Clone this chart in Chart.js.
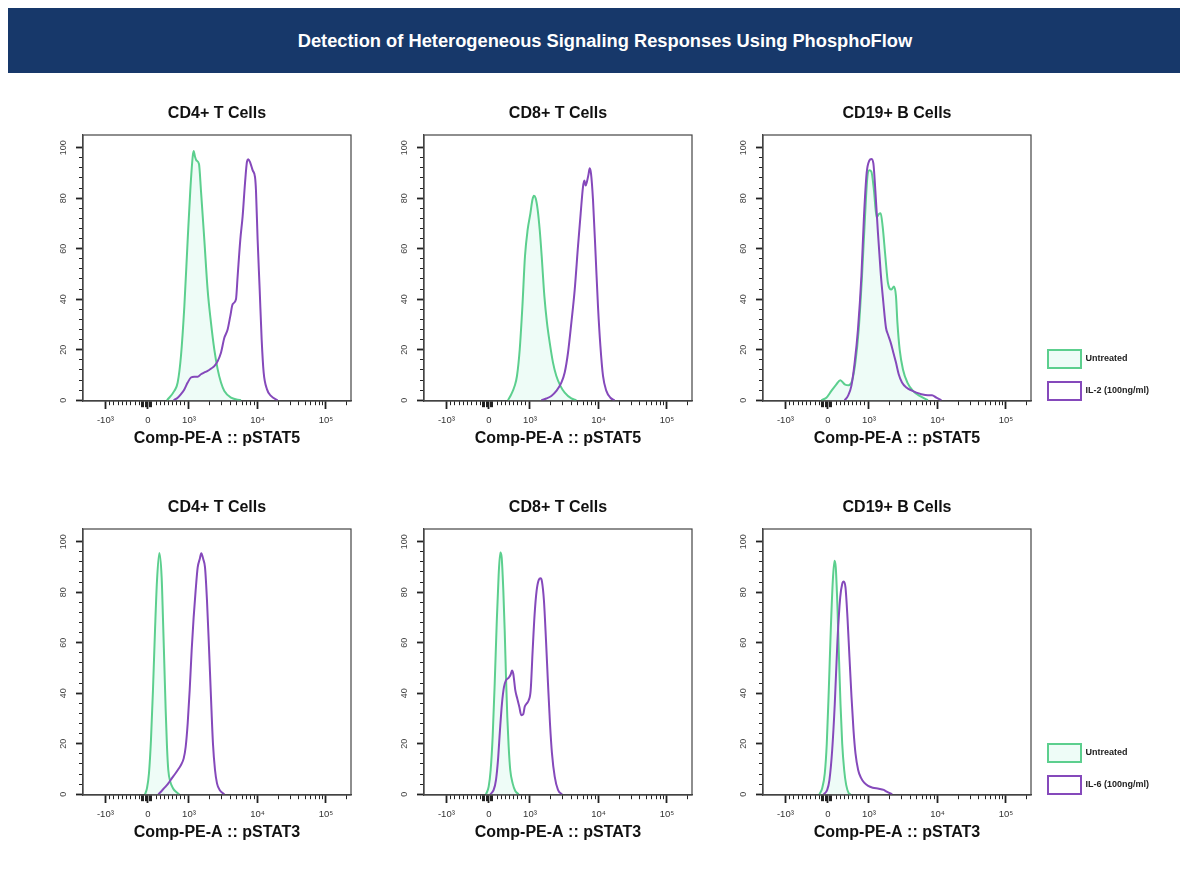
<!DOCTYPE html>
<html>
<head>
<meta charset="utf-8">
<title>Detection of Heterogeneous Signaling Responses Using PhosphoFlow</title>
<script src="https://cdn.jsdelivr.net/npm/chart.js@4.4.1/dist/chart.umd.min.js"></script>
<style>
    html, body { margin: 0; padding: 0; background: #fff; overflow: hidden; }
    body { width: 1188px; height: 873px; position: relative; font-family: "Liberation Sans", Arial, sans-serif; }
    #banner {
        position: absolute; left: 8px; top: 8px; width: 1150px; height: 65px; padding-left: 22px;
        background: #17386a; color: #fff; font-weight: bold; font-size: 18.3px;
        line-height: 65px; text-align: center;
    }
    canvas { position: absolute; }
</style>
</head>
<body>
<div id="banner">Detection of Heterogeneous Signaling Responses Using PhosphoFlow</div>
<canvas id="p1"></canvas>
<canvas id="p2"></canvas>
<canvas id="p3"></canvas>
<canvas id="p4"></canvas>
<canvas id="p5"></canvas>
<canvas id="p6"></canvas>
<canvas id="legendTop"></canvas>
<canvas id="legendBottom"></canvas>
<script>
'use strict';

// x values are in biexponential display units (1 = 10^3, 2 = 10^4, 3 = 10^5)
const xTickValues = [-0.22, 0.40, 1, 2, 3];
const xTickLabels = ['-10³', '0', '10³', '10⁴', '10⁵'];
const yTickValues = [0, 20, 40, 60, 80, 100];

const cellTypes = ['CD4+ T Cells', 'CD8+ T Cells', 'CD19+ B Cells'];
const axisTitles = ['Comp-PE-A :: pSTAT5', 'Comp-PE-A :: pSTAT3'];
const controlLabel = 'Untreated';
const treatedLabels = ['IL-2 (100ng/ml)', 'IL-6 (100ng/ml)'];

// pSTAT5 row
const pstat5Cd4Untreated = [[0.679, 0], [0.786, 3.7], [0.835, 7], [0.883, 17.5], [0.932, 37], [0.981, 63.5], [1.019, 83], [1.054, 96.4], [1.068, 98.7], [1.088, 96.4], [1.107, 95], [1.146, 93.5], [1.175, 83], [1.224, 63.5], [1.272, 43.8], [1.321, 30.7], [1.370, 20], [1.419, 12.2], [1.467, 7], [1.516, 3.7], [1.613, 1], [1.759, 0]];
const pstat5Cd4Il2 = [[0.776, 0], [0.835, 1], [0.883, 2.4], [0.932, 4.3], [0.981, 7], [1.029, 9], [1.078, 9.3], [1.127, 9.3], [1.175, 10.3], [1.224, 11], [1.272, 11.6], [1.321, 12.5], [1.370, 13.5], [1.419, 15.5], [1.467, 18.8], [1.516, 24.7], [1.564, 28], [1.603, 33.3], [1.637, 38], [1.686, 40], [1.710, 49], [1.749, 63.5], [1.783, 72.8], [1.818, 86], [1.847, 94.5], [1.866, 95.4], [1.895, 94], [1.930, 91], [1.964, 88.3], [1.978, 83], [2.002, 63.5], [2.032, 43.8], [2.061, 24], [2.090, 11], [2.139, 4.3], [2.197, 1.7], [2.294, 0]];
const pstat5Cd8Untreated = [[0.679, 0], [0.728, 2.4], [0.777, 5.7], [0.810, 9.6], [0.850, 20], [0.889, 37], [0.927, 57], [0.966, 67.5], [1.006, 74], [1.035, 79.3], [1.058, 81], [1.083, 80], [1.112, 75.5], [1.142, 67.5], [1.171, 57], [1.210, 41.2], [1.248, 30.7], [1.288, 22.8], [1.336, 14.9], [1.385, 9.6], [1.444, 5.7], [1.507, 3], [1.604, 0.7], [1.677, 0]];
const pstat5Cd8Il2 = [[1.166, 0], [1.239, 0.7], [1.312, 1.7], [1.385, 3.7], [1.458, 7], [1.507, 11], [1.555, 18.8], [1.604, 30.7], [1.653, 43.8], [1.701, 61], [1.740, 74], [1.774, 84.5], [1.794, 87], [1.813, 85], [1.832, 86.6], [1.853, 89.2], [1.872, 91.8], [1.891, 89.7], [1.920, 79.3], [1.959, 57], [1.993, 37], [2.028, 21.4], [2.066, 9.6], [2.115, 3.7], [2.174, 1], [2.236, 0]];
const pstat5Cd19Untreated = [[0.305, 0], [0.378, 1], [0.451, 3.7], [0.524, 6.3], [0.582, 7.9], [0.645, 6.3], [0.704, 5.9], [0.752, 7.6], [0.801, 14.9], [0.850, 28], [0.898, 49], [0.937, 70], [0.977, 88.5], [1.006, 91], [1.035, 90.5], [1.073, 83], [1.112, 72.4], [1.142, 73.6], [1.171, 74], [1.200, 68.7], [1.239, 57], [1.277, 46.4], [1.327, 43.8], [1.365, 45], [1.394, 41.2], [1.415, 30.7], [1.448, 20], [1.496, 12.2], [1.561, 7], [1.642, 3.7], [1.740, 1.7], [1.861, 0]];
const pstat5Cd19Il2 = [[0.645, 0], [0.693, 1.7], [0.743, 5.7], [0.791, 14.9], [0.839, 28], [0.889, 49], [0.927, 72.8], [0.966, 89.9], [1.006, 94.9], [1.035, 95.5], [1.064, 93.8], [1.093, 83], [1.131, 66.2], [1.171, 50.4], [1.210, 38.6], [1.248, 28.7], [1.277, 26], [1.317, 22.8], [1.356, 18.8], [1.394, 14.9], [1.434, 10.3], [1.482, 7], [1.546, 5], [1.619, 3.9], [1.692, 3], [1.765, 2.4], [1.861, 2], [1.920, 2], [1.984, 1], [2.057, 0]];

// pSTAT3 row
const pstat3Cd4Untreated = [[0.358, 0], [0.387, 2.4], [0.416, 8.3], [0.445, 21.4], [0.474, 41], [0.504, 64.8], [0.533, 84.5], [0.567, 95.5], [0.601, 85.9], [0.620, 70], [0.640, 51.6], [0.660, 33.2], [0.679, 18.8], [0.698, 9.6], [0.727, 5], [0.766, 2.4], [0.810, 1], [0.858, 0]];
const pstat3Cd4Il6 = [[0.552, 0], [0.601, 1.3], [0.650, 2.8], [0.698, 4.3], [0.747, 6.2], [0.796, 8], [0.844, 9.9], [0.883, 11.6], [0.923, 14.2], [0.952, 18.8], [0.981, 28], [1.010, 41.1], [1.039, 56.9], [1.068, 70], [1.097, 80.6], [1.127, 89.8], [1.156, 93], [1.180, 95.4], [1.209, 93], [1.234, 89.8], [1.263, 76.6], [1.292, 58.2], [1.321, 38.5], [1.350, 20.1], [1.380, 9.6], [1.409, 4.3], [1.448, 1.7], [1.516, 0]];
const pstat3Cd8Untreated = [[0.358, 0], [0.397, 3], [0.426, 9.6], [0.455, 22.7], [0.485, 43.8], [0.514, 67.4], [0.543, 87.1], [0.567, 95.7], [0.587, 93.7], [0.611, 80.6], [0.631, 64.8], [0.650, 46.4], [0.669, 30.6], [0.689, 18.8], [0.712, 9.6], [0.747, 4.3], [0.786, 1.3], [0.835, 0]];
const pstat3Cd8Il6 = [[0.420, 0], [0.470, 1.7], [0.504, 5.7], [0.533, 13.5], [0.562, 25.4], [0.591, 35.9], [0.620, 42.4], [0.650, 45.1], [0.689, 46.1], [0.718, 47.4], [0.737, 49], [0.756, 47.7], [0.786, 41.1], [0.815, 37.8], [0.844, 34.6], [0.873, 31.3], [0.902, 31.7], [0.923, 34.6], [0.952, 35.9], [0.981, 37.2], [1.010, 41.1], [1.039, 56.9], [1.068, 71.4], [1.097, 80.6], [1.127, 84.8], [1.156, 85.5], [1.175, 84.2], [1.204, 76.6], [1.234, 60.8], [1.263, 43.8], [1.292, 28], [1.321, 16.2], [1.361, 7], [1.409, 1.7], [1.467, 0]];
const pstat3Cd19Untreated = [[0.277, 0], [0.317, 2.4], [0.355, 8.3], [0.384, 20.1], [0.413, 41.1], [0.442, 64.8], [0.472, 84.5], [0.496, 92.4], [0.515, 89.8], [0.540, 74], [0.559, 56.9], [0.584, 35.9], [0.609, 20.1], [0.638, 9.6], [0.667, 3.7], [0.705, 0.4], [0.730, 0]];
const pstat3Cd19Il6 = [[0.340, 0], [0.390, 1.7], [0.423, 5.7], [0.463, 17.5], [0.501, 35.9], [0.540, 60.8], [0.580, 77.9], [0.609, 83.2], [0.632, 84.2], [0.657, 81.9], [0.686, 70], [0.715, 54.3], [0.745, 38.5], [0.774, 25.4], [0.803, 16.2], [0.842, 9.6], [0.880, 6.7], [0.930, 4.6], [0.988, 3.3], [1.055, 2.6], [1.143, 2.2], [1.216, 1.7], [1.266, 0.9], [1.339, 0]];

const GREEN = '#5ccf8e';
const MINT = '#eefcf7';
const PURPLE = '#8549bb';
const FRAME = '#444';

const X_MIN = -0.547;
const X_MAX = 3.365;

Chart.defaults.font.family = '"Liberation Sans", Arial, Helvetica, sans-serif';
Chart.defaults.color = '#333';

// minor tick marks of the biexponential axis
function buildMinorTicks() {
    const out = [];
    for (let k = 1; k <= 8; k++) out.push(-0.22 + k * 0.062);
    for (let k = 0; k <= 8; k++) out.push(0.30 + k * 0.02);
    for (let k = 2; k <= 9; k++) out.push(0.40 + k * 0.06);
    for (let d = 1; d <= 3; d++) {
        for (let k = 2; k <= 9; k++) {
            const u = d + Math.log10(k);
            if (u < X_MAX) out.push(u);
        }
    }
    return out;
}

function near(a, b) {
    return Math.abs(a - b) < 1e-6;
}

function majorIndex(v) {
    return xTickValues.findIndex((m) => near(m, v));
}

const xAllTicks = xTickValues.concat(buildMinorTicks().filter((v) => majorIndex(v) < 0)).sort((a, b) => a - b);
const yAllTicks = [];
for (let v = 0; v <= 100; v += 4) yAllTicks.push(v);

const framePlugin = {
    id: 'frame',
    afterDraw: function (chart) {
        const ctx = chart.ctx;
        const a = chart.chartArea;
        ctx.save();
        ctx.strokeStyle = FRAME;
        ctx.lineWidth = 1.2;
        ctx.strokeRect(a.left, a.top, a.right - a.left, a.bottom - a.top);
        ctx.restore();
    }
};

function toPoints(list) {
    return list.map(([x, y]) => ({ x: x, y: y }));
}

function makePanel(id, left, top, cellType, axisTitle, control, treated, treatedLabel) {
    const canvas = document.getElementById(id);
    canvas.width = 320;
    canvas.height = 353;
    canvas.style.left = left + 'px';
    canvas.style.top = top + 'px';

    return new Chart(canvas, {
        type: 'line',
        data: {
            datasets: [{
                label: controlLabel,
                data: toPoints(control),
                borderColor: GREEN,
                backgroundColor: MINT,
                fill: 'origin',
                borderWidth: 2,
                pointRadius: 0,
                cubicInterpolationMode: 'monotone',
                order: 2
            }, {
                label: treatedLabel,
                data: toPoints(treated),
                borderColor: PURPLE,
                backgroundColor: '#ffffff',
                fill: false,
                borderWidth: 2,
                pointRadius: 0,
                cubicInterpolationMode: 'monotone',
                order: 1
            }]
        },
        options: {
            responsive: false,
            animation: false,
            events: [],
            layout: { padding: { left: 0, right: 10, top: 0, bottom: 0 } },
            plugins: {
                legend: { display: false },
                tooltip: { enabled: false },
                title: {
                    display: true,
                    fullSize: false,
                    text: cellType,
                    color: '#111',
                    font: { size: 16, weight: 'bold' },
                    padding: { top: 9.4, bottom: 11.4 }
                }
            },
            scales: {
                x: {
                    type: 'linear',
                    min: X_MIN,
                    max: X_MAX,
                    afterBuildTicks: function (scale) {
                        scale.ticks = xAllTicks.map((v) => ({ value: v }));
                    },
                    afterFit: function (scale) {
                        scale.height = 47;
                    },
                    ticks: {
                        autoSkip: false,
                        minRotation: 0,
                        maxRotation: 0,
                        padding: 6,
                        color: '#333',
                        font: { size: 9.5 },
                        callback: function (value) {
                            const i = majorIndex(value);
                            return i >= 0 ? xTickLabels[i] : '';
                        }
                    },
                    grid: {
                        drawOnChartArea: false,
                        drawTicks: true,
                        tickLength: 8,
                        tickColor: '#222',
                        tickWidth: (c) => (c.tick && majorIndex(c.tick.value) >= 0 ? 1.8 : 1),
                        tickBorderDash: function (c) {
                            if (!c.tick || majorIndex(c.tick.value) >= 0) return [];
                            const v = c.tick.value;
                            return (v > 0.29 && v < 0.47) ? [6, 40] : [4, 40];
                        }
                    },
                    border: { display: true, color: FRAME, width: 1.2 },
                    title: {
                        display: true,
                        text: axisTitle,
                        color: '#111',
                        font: { size: 16, weight: 'bold' },
                        padding: 0
                    }
                },
                y: {
                    min: -0.3,
                    max: 105,
                    afterBuildTicks: function (scale) {
                        scale.ticks = yAllTicks.map((v) => ({ value: v }));
                    },
                    afterFit: function (scale) {
                        scale.width = 42;
                    },
                    ticks: {
                        autoSkip: false,
                        minRotation: 90,
                        maxRotation: 90,
                        crossAlign: 'center',
                        padding: 5,
                        color: '#444',
                        font: { size: 9 },
                        callback: (value) => (yTickValues.includes(value) ? String(value) : '')
                    },
                    grid: {
                        drawOnChartArea: false,
                        drawTicks: true,
                        tickLength: 7,
                        tickColor: '#222',
                        tickWidth: (c) => (c.tick && yTickValues.includes(c.tick.value) ? 1.8 : 1),
                        tickBorderDash: (c) => (c.tick && yTickValues.includes(c.tick.value) ? [] : [0, 3, 30])
                    },
                    border: { display: true, color: FRAME, width: 1.2 }
                }
            }
        },
        plugins: [framePlugin]
    });
}

function makeLegend(id, left, top, treatedLabel) {
    const canvas = document.getElementById(id);
    canvas.width = 320;
    canvas.height = 90;
    canvas.style.left = left + 'px';
    canvas.style.top = top + 'px';

    return new Chart(canvas, {
        type: 'line',
        data: {
            datasets: [{
                label: controlLabel,
                data: [],
                borderColor: GREEN,
                backgroundColor: MINT,
                borderWidth: 2
            }, {
                label: treatedLabel,
                data: [],
                borderColor: PURPLE,
                backgroundColor: '#ffffff',
                borderWidth: 2
            }]
        },
        options: {
            responsive: false,
            animation: false,
            events: [],
            scales: { x: { display: false }, y: { display: false } },
            plugins: {
                tooltip: { enabled: false },
                legend: {
                    position: 'left',
                    align: 'start',
                    labels: {
                        boxWidth: 33,
                        boxHeight: 18,
                        padding: 14,
                        color: '#222',
                        font: { size: 9, weight: 'bold' }
                    }
                }
            }
        }
    });
}

const colLefts = [41, 382, 721];
const rowTops = [95, 489];

makePanel('p1', colLefts[0], rowTops[0], cellTypes[0], axisTitles[0], pstat5Cd4Untreated, pstat5Cd4Il2, treatedLabels[0]);
makePanel('p2', colLefts[1], rowTops[0], cellTypes[1], axisTitles[0], pstat5Cd8Untreated, pstat5Cd8Il2, treatedLabels[0]);
makePanel('p3', colLefts[2], rowTops[0], cellTypes[2], axisTitles[0], pstat5Cd19Untreated, pstat5Cd19Il2, treatedLabels[0]);
makePanel('p4', colLefts[0], rowTops[1], cellTypes[0], axisTitles[1], pstat3Cd4Untreated, pstat3Cd4Il6, treatedLabels[1]);
makePanel('p5', colLefts[1], rowTops[1], cellTypes[1], axisTitles[1], pstat3Cd8Untreated, pstat3Cd8Il6, treatedLabels[1]);
makePanel('p6', colLefts[2], rowTops[1], cellTypes[2], axisTitles[1], pstat3Cd19Untreated, pstat3Cd19Il6, treatedLabels[1]);

makeLegend('legendTop', 1034, 336, treatedLabels[0]);
makeLegend('legendBottom', 1034, 730, treatedLabels[1]);
</script>
</body>
</html>
